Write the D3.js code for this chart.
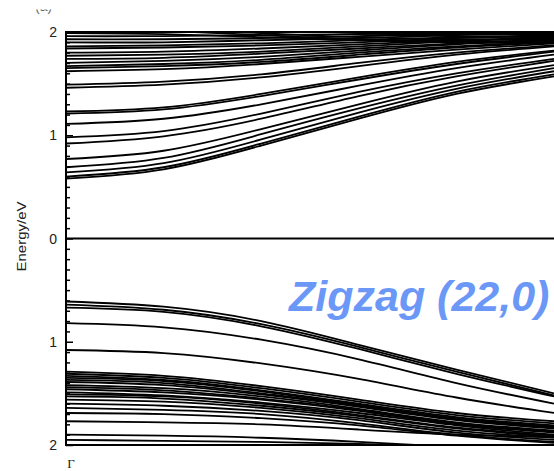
<!DOCTYPE html>
<html>
<head>
<meta charset="utf-8">
<script src="https://cdn.jsdelivr.net/npm/d3@7"></script>
<style>
  html, body { margin: 0; padding: 0; background: #fff; }
  svg { display: block; }
</style>
</head>
<body>
<svg id="chart" width="554" height="471"></svg>
<script>
// ---- data ----
const kPoints = [0, 0.2, 0.4, 0.6, 0.8, 1.0];

const conductionBands = [
  [0.58, 0.67, 0.90, 1.16, 1.40, 1.57],
  [0.60, 0.69, 0.92, 1.18, 1.42, 1.59],
  [0.64, 0.73, 0.96, 1.22, 1.45, 1.62],
  [0.69, 0.78, 1.01, 1.26, 1.48, 1.65],
  [0.77, 0.85, 1.06, 1.30, 1.52, 1.68],
  [0.92, 0.99, 1.16, 1.38, 1.57, 1.72],
  [0.98, 1.04, 1.21, 1.42, 1.60, 1.74],
  [1.11, 1.16, 1.30, 1.48, 1.65, 1.78],
  [1.21, 1.25, 1.38, 1.54, 1.69, 1.81],
  [1.23, 1.27, 1.40, 1.56, 1.71, 1.82],
  [1.46, 1.49, 1.56, 1.67, 1.78, 1.86],
  [1.49, 1.52, 1.59, 1.70, 1.80, 1.87],
  [1.62, 1.64, 1.69, 1.76, 1.83, 1.89],
  [1.65, 1.67, 1.71, 1.78, 1.85, 1.90],
  [1.67, 1.69, 1.73, 1.80, 1.86, 1.91],
  [1.70, 1.72, 1.76, 1.82, 1.88, 1.92],
  [1.74, 1.75, 1.79, 1.84, 1.89, 1.93],
  [1.77, 1.78, 1.81, 1.86, 1.91, 1.94],
  [1.80, 1.81, 1.84, 1.88, 1.92, 1.95],
  [1.84, 1.85, 1.87, 1.90, 1.94, 1.96],
  [1.86, 1.87, 1.89, 1.92, 1.95, 1.97],
  [1.90, 1.90, 1.92, 1.94, 1.97, 1.98],
  [1.93, 1.93, 1.94, 1.96, 1.98, 1.99],
  [1.96, 1.96, 1.97, 1.98, 1.99, 2.00],
  [1.99, 1.98, 1.95, 1.92, 1.90, 1.89],
  [2.03, 2.01, 1.97, 1.93, 1.91, 1.90],
  [2.06, 2.03, 1.99, 1.95, 1.93, 1.92],
  [2.10, 2.08, 2.03, 1.99, 1.96, 1.95]
];

const valenceBands = [
  [-0.61, -0.66, -0.80, -1.03, -1.27, -1.50],
  [-0.64, -0.69, -0.83, -1.05, -1.29, -1.52],
  [-0.67, -0.71, -0.85, -1.07, -1.31, -1.53],
  [-0.82, -0.86, -0.98, -1.17, -1.40, -1.60],
  [-1.08, -1.11, -1.21, -1.36, -1.54, -1.69],
  [-1.29, -1.33, -1.43, -1.56, -1.69, -1.77],
  [-1.31, -1.35, -1.45, -1.58, -1.71, -1.79],
  [-1.33, -1.37, -1.47, -1.60, -1.73, -1.81],
  [-1.35, -1.38, -1.48, -1.61, -1.74, -1.82],
  [-1.37, -1.40, -1.50, -1.62, -1.75, -1.83],
  [-1.39, -1.42, -1.51, -1.63, -1.76, -1.84],
  [-1.42, -1.45, -1.53, -1.65, -1.78, -1.86],
  [-1.44, -1.47, -1.55, -1.66, -1.79, -1.87],
  [-1.46, -1.49, -1.56, -1.67, -1.80, -1.88],
  [-1.49, -1.52, -1.59, -1.69, -1.81, -1.90],
  [-1.51, -1.53, -1.60, -1.71, -1.83, -1.91],
  [-1.53, -1.55, -1.62, -1.72, -1.84, -1.92],
  [-1.56, -1.58, -1.64, -1.74, -1.86, -1.93],
  [-1.60, -1.62, -1.67, -1.76, -1.88, -1.95],
  [-1.64, -1.66, -1.70, -1.79, -1.90, -1.97],
  [-1.69, -1.70, -1.74, -1.81, -1.91, -1.98],
  [-1.77, -1.78, -1.80, -1.85, -1.90, -1.92],
  [-1.90, -1.91, -1.93, -1.97, -2.02, -2.06],
  [-1.95, -1.96, -1.97, -1.99, -2.02, -2.04]
];

const yTickValues = [2, 1, 0, -1, -2];
const yTickLabels = ["2", "1", "0", "1", "2"];
const xTickValues = [0];
const xTickLabels = ["Γ"];
const yTitle = "Energy/eV";
const chartTitle = "Zigzag (22,0)";
const panelLabel = "(a)";

// ---- layout ----
const svg = d3.select("#chart");
const plotLeft = 66, plotRight = 554, frameRight = 600;
const plotTop = 32, plotBottom = 445;

const x = d3.scaleLinear().domain([0, 1]).range([plotLeft, plotRight]);
const y = d3.scaleLinear().domain([-2, 2]).range([plotBottom, plotTop]);

const defs = svg.append("defs");
defs.append("clipPath").attr("id", "plotClip")
  .append("rect").attr("x", plotLeft).attr("y", plotTop)
  .attr("width", frameRight - plotLeft).attr("height", plotBottom - plotTop);
defs.append("clipPath").attr("id", "topClip")
  .append("rect").attr("x", 0).attr("y", 9.5).attr("width", 120).attr("height", 20);

// bands
const line = d3.line()
  .x((d, i) => x(kPoints[i]))
  .y(d => y(d))
  .curve(d3.curveNatural);

const bandG = svg.append("g").attr("clip-path", "url(#plotClip)");
bandG.selectAll("path.cb").data(conductionBands).join("path")
  .attr("class", "cb").attr("d", line)
  .attr("fill", "none").attr("stroke", "#000").attr("stroke-width", 1.8);
bandG.selectAll("path.vb").data(valenceBands).join("path")
  .attr("class", "vb").attr("d", line)
  .attr("fill", "none").attr("stroke", "#000").attr("stroke-width", 1.8);

// zero (Fermi) line
svg.append("line")
  .attr("x1", plotLeft).attr("x2", frameRight)
  .attr("y1", y(0)).attr("y2", y(0))
  .attr("stroke", "#000").attr("stroke-width", 2);

// frame: top and bottom
svg.append("line").attr("x1", plotLeft - 1).attr("x2", frameRight)
  .attr("y1", plotTop).attr("y2", plotTop).attr("stroke", "#000").attr("stroke-width", 2);
svg.append("line").attr("x1", plotLeft - 1).attr("x2", frameRight)
  .attr("y1", plotBottom).attr("y2", plotBottom).attr("stroke", "#000").attr("stroke-width", 2);

// y axis with inward ticks
const minorTicks = d3.range(-20, 21).map(v => v / 10).filter(v => Math.abs(v - Math.round(v)) > 1e-6);
const yAxisMinor = d3.axisRight(y).tickValues(minorTicks).tickSize(4).tickFormat("");
const yAxisMajor = d3.axisRight(y).tickValues(yTickValues).tickSize(7).tickFormat("");
const gMinor = svg.append("g").attr("transform", `translate(${plotLeft},0)`).call(yAxisMinor);
const gMajor = svg.append("g").attr("transform", `translate(${plotLeft},0)`).call(yAxisMajor);
[gMinor, gMajor].forEach(g => {
  g.select(".domain").remove();
  g.selectAll(".tick line").attr("stroke", "#000").attr("stroke-width", 1.5);
});
svg.append("line").attr("x1", plotLeft).attr("x2", plotLeft)
  .attr("y1", plotTop - 1).attr("y2", plotBottom + 1)
  .attr("stroke", "#000").attr("stroke-width", 2);

// y tick labels
svg.selectAll("text.ylab").data(yTickValues).join("text")
  .attr("class", "ylab")
  .attr("x", 57).attr("y", d => y(d))
  .attr("dy", "0.36em")
  .attr("text-anchor", "end")
  .attr("font-family", "Liberation Sans, Arial, sans-serif")
  .attr("font-size", 14)
  .attr("fill", "#222")
  .text((d, i) => yTickLabels[i]);

// x tick label (Gamma)
svg.selectAll("text.xlab").data(xTickValues).join("text")
  .attr("class", "xlab")
  .attr("x", d => x(d) + 5).attr("y", 468)
  .attr("text-anchor", "middle")
  .attr("font-family", "Liberation Serif, Times New Roman, serif")
  .attr("font-size", 13)
  .attr("fill", "#222")
  .text((d, i) => xTickLabels[i]);

// y title
svg.append("text")
  .attr("transform", `translate(26,${y(0) - 2}) rotate(-90)`)
  .attr("text-anchor", "middle")
  .attr("font-family", "Liberation Sans, Arial, sans-serif")
  .attr("font-size", 13)
  .attr("textLength", 70).attr("lengthAdjust", "spacingAndGlyphs")
  .attr("fill", "#222")
  .text(yTitle);

// chart title
svg.append("text")
  .attr("x", 289).attr("y", 311)
  .attr("font-family", "Liberation Sans, Arial, sans-serif")
  .attr("font-size", 43)
  .attr("font-weight", "bold")
  .attr("font-style", "italic")
  .attr("fill", "#6b97f7")
  .text(chartTitle);

// partially visible panel label
svg.append("text")
  .attr("x", 35).attr("y", 11)
  .attr("clip-path", "url(#topClip)")
  .attr("font-family", "Liberation Sans, Arial, sans-serif")
  .attr("font-size", 14)
  .attr("fill", "#666")
  .text(panelLabel);
</script>
</body>
</html>
